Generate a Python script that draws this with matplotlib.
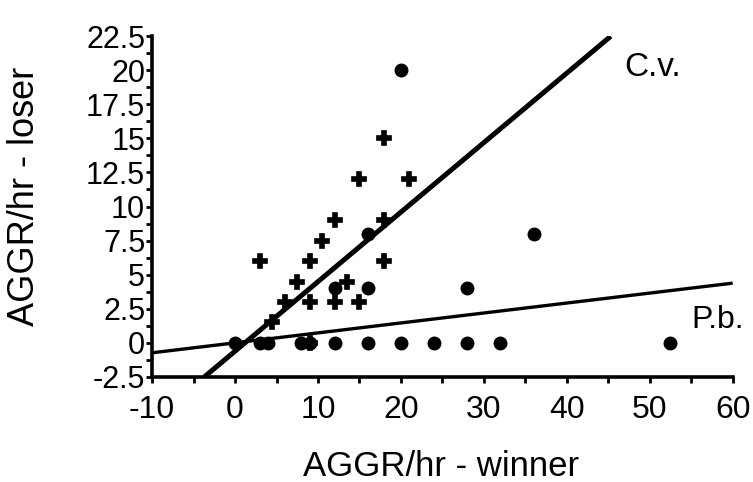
import numpy as np
import matplotlib
matplotlib.use('Agg')
import matplotlib.pyplot as plt
from matplotlib.ticker import MultipleLocator

plt.rcParams['font.family'] = ['Liberation Sans', 'DejaVu Sans']
plt.rcParams['axes.unicode_minus'] = False

# P.b. (filled circles)
pb_x = [0, 3, 4, 8, 9, 12, 16, 20, 24, 28, 32, 52.5, 12, 16, 16, 28, 36, 20]
pb_y = [0, 0, 0, 0, 0, 0, 0, 0, 0, 0, 0, 0, 4, 4, 8, 4, 8, 20]

# C.v. (plus markers)
cv_x = [3, 4.5, 6, 7.5, 9, 9, 10.5, 12, 12, 13.5, 15, 15, 18, 18, 18, 21, 9]
cv_y = [6, 1.5, 3, 4.5, 6, 3, 7.5, 9, 3, 4.5, 12, 3, 15, 9, 6, 12, 0]

# regression lines: slope, intercept, x range
cv_fit = (0.51, -0.61)
cv_range = (-3.7, 45.3)
pb_fit = (0.073, 0.0)
pb_range = (-10, 60)

fig = plt.figure(figsize=(7.53, 4.82), dpi=100)
ax = fig.add_axes([0.202, 0.218, 0.771, 0.707])

xs = np.array(cv_range)
ax.plot(xs, cv_fit[0] * xs + cv_fit[1], color='black', lw=3.6, solid_capstyle='butt')
xs = np.array(pb_range)
ax.plot(xs, pb_fit[0] * xs + pb_fit[1], color='black', lw=2.4, solid_capstyle='butt')

ax.plot(pb_x, pb_y, 'o', color='black', ms=9, clip_on=False)
ax.plot(cv_x, cv_y, 'P', color='black', ms=9.5, mew=1.2, clip_on=False)

ax.text(46.9, 20.2, 'C.v.', fontsize=24, va='center', ha='left')
ax.text(55.0, 1.7, 'P.b.', fontsize=23, va='center', ha='left')

ax.set_xlim(-10, 60)
ax.set_ylim(-2.5, 22.5)
ax.xaxis.set_major_locator(MultipleLocator(10))
ax.xaxis.set_minor_locator(MultipleLocator(5))
ax.yaxis.set_major_locator(MultipleLocator(2.5))
ax.yaxis.set_minor_locator(MultipleLocator(1.25))
ax.set_yticklabels([f'{v:g}' for v in ax.get_yticks()])

for s in ['top', 'right']:
    ax.spines[s].set_visible(False)
for s in ['left', 'bottom']:
    ax.spines[s].set_linewidth(2.6)

ax.tick_params(axis='x', which='both', direction='out', length=4, width=2, labelsize=23, pad=9)
ax.tick_params(axis='y', which='both', direction='out', length=4, width=2, labelsize=22, pad=1)

ax.set_xlabel('AGGR/hr - winner', fontsize=25)
ax.xaxis.set_label_coords(0.497, -0.215)
ax.set_ylabel('AGGR/hr - loser', fontsize=26)
ax.yaxis.set_label_coords(-0.19, 0.53)

fig.savefig('out.png', dpi=100)
